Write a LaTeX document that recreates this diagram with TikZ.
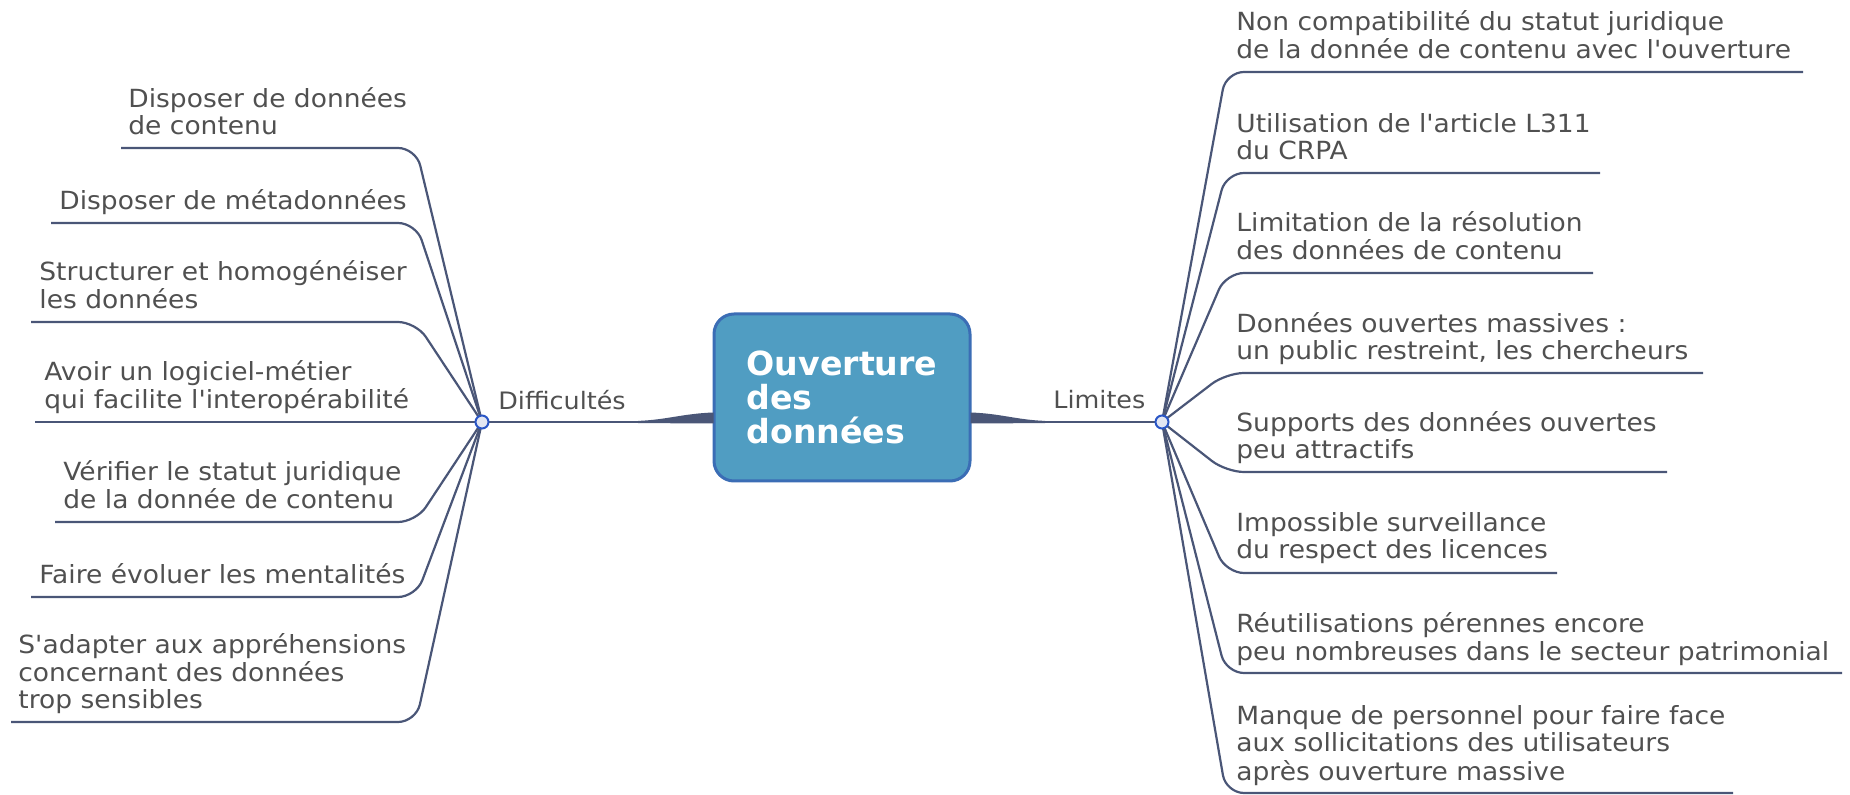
\documentclass[tikz,border=0pt]{standalone}
\usepackage{fontspec}
\setmainfont{DejaVu Sans}
\newfontfamily\leaffont[FakeStretch=1.06]{DejaVu Sans}
\usetikzlibrary{calc}
\definecolor{leaftext}{HTML}{505050}
\definecolor{branchc}{HTML}{4A5677}
\definecolor{hubfill}{HTML}{E2E6F2}
\definecolor{hubdraw}{HTML}{2A56C6}
\definecolor{rootfill}{HTML}{509DC2}
\definecolor{rootdraw}{HTML}{3B6DB5}
\newcommand\leaflines[1]{\begin{tabular}[b]{@{}l@{}}#1\end{tabular}}
\begin{document}
\begin{tikzpicture}[x=0.5pt,y=-0.5pt,
  leaf/.style={anchor=base west, inner sep=0pt, text=leaftext,
    font=\leaffont\fontsize{12.5pt}{13.4pt}\selectfont},
  branch/.style={draw=branchc, line width=1.1pt, rounded corners=9pt},
  hub/.style={circle, fill=hubfill, draw=hubdraw, line width=1pt, minimum size=6.5pt, inner sep=0pt},
  hublabel/.style={anchor=base west, inner sep=0pt, text=leaftext,
    font=\leaffont\fontsize{12pt}{14pt}\selectfont},
  rootbox/.style={rounded corners=10pt, fill=rootfill, draw=rootdraw, line width=1.5pt,
    minimum width=128pt, minimum height=83.5pt, align=left, text=white, inner sep=0pt,
    font=\bfseries\fontsize{16.6pt}{17pt}\selectfont},
  taper/.style={fill=branchc, draw=none}]
\useasboundingbox (0,0) rectangle (1850,795);

% root
\node[rootbox] (root) at (842,397.5) {Ouverture\\des\\données};

% hubs
\coordinate (difc) at (482,422);
\coordinate (limc) at (1162,422);
\coordinate (djoin) at (638,422);
\coordinate (ljoin) at (1045,422);

\node[hublabel] (diflab) at (498,410) {Difficultés};
\node[hublabel] (limlab) at (1053,409) {Limites};

% tapered connectors
\fill[taper] ($(root.west)+(1,15)$) .. controls +(-30,1) and +(28,-1) .. ($(djoin)+(0,-1.1)$)
  -- ($(djoin)+(0,1.1)$) .. controls +(30,0) and +(-30,0) .. ($(root.west)+(1,26)$) -- cycle;
\fill[taper] ($(root.east)+(-1,15)$) .. controls +(30,1) and +(-28,-1) .. ($(ljoin)+(0,-1.1)$)
  -- ($(ljoin)+(0,1.1)$) .. controls +(-30,0) and +(30,0) .. ($(root.east)+(-1,26)$) -- cycle;
\draw[branch] (djoin) -- (difc);
\draw[branch] (ljoin) -- (limc);

% left leaves
\node[leaf] (l1) at (128,134.5) {\leaflines{Disposer de données\\de contenu}};
\node[leaf] (l2) at (59,209.5) {\leaflines{Disposer de métadonnées}};
\node[leaf] (l3) at (39,308.5) {\leaflines{Structurer et homogénéiser\\les données}};
\node[leaf] (l4) at (44,408.5) {\leaflines{Avoir un logiciel-métier\\qui facilite l'interopérabilité}};
\node[leaf] (l5) at (63,508.5) {\leaflines{Vérifier le statut juridique\\de la donnée de contenu}};
\node[leaf] (l6) at (39,583.5) {\leaflines{Faire évoluer les mentalités}};
\node[leaf] (l7) at (18,708.5) {\leaflines{S'adapter aux appréhensions\\concernant des données\\trop sensibles}};

\foreach \n/\xs/\y in {1/121/148, 2/51/223, 3/31/322, 5/55/522, 6/31/597, 7/11/722}{
  \coordinate (l\n s) at (\xs,\y);
  \coordinate (l\n e) at (416,\y);
  \draw[branch] (l\n s) -- (l\n e) -- (difc);
}
\coordinate (l4s) at (35,422);
\draw[branch] (l4s) -- (difc);

% right leaves
\node[leaf] (r1) at (1236,59) {\leaflines{Non compatibilité du statut juridique\\de la donnée de contenu avec l'ouverture}};
\node[leaf] (r2) at (1236,160) {\leaflines{Utilisation de l'article L311\\du CRPA}};
\node[leaf] (r3) at (1236,260) {\leaflines{Limitation de la résolution\\des données de contenu}};
\node[leaf] (r4) at (1236,360) {\leaflines{Données ouvertes massives :\\un public restreint, les chercheurs}};
\node[leaf] (r5) at (1236,459) {\leaflines{Supports des données ouvertes\\peu attractifs}};
\node[leaf] (r6) at (1236,559) {\leaflines{Impossible surveillance\\du respect des licences}};
\node[leaf] (r7) at (1236,660) {\leaflines{Réutilisations pérennes encore\\peu nombreuses dans le secteur patrimonial}};
\node[leaf] (r8) at (1236,780) {\leaflines{Manque de personnel pour faire face\\aux sollicitations des utilisateurs\\après ouverture massive}};

\foreach \n/\xe/\y in {1/1803/72, 2/1600/173, 3/1593/273, 4/1703/373, 5/1667/472, 6/1557/573, 7/1842/673, 8/1733/793}{
  \coordinate (r\n s) at (1226,\y);
  \coordinate (r\n e) at (\xe,\y);
  \draw[branch] (r\n e) -- (r\n s) -- (limc);
}

% hub circles on top
\node[hub] (dif) at (difc) {};
\node[hub] (lim) at (limc) {};
\end{tikzpicture}
\end{document}
